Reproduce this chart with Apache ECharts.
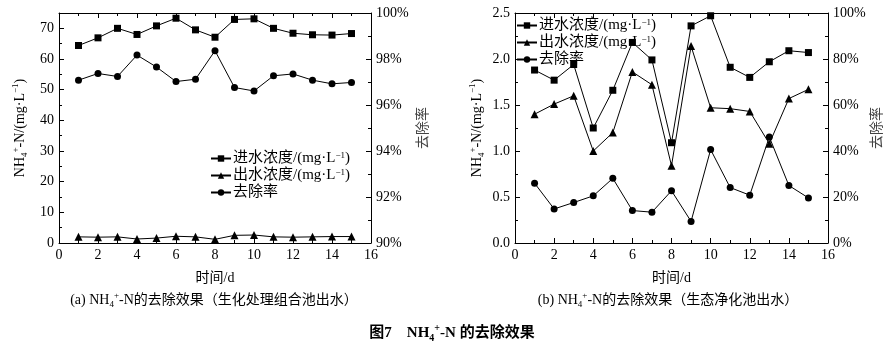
<!DOCTYPE html>
<html>
<head>
<meta charset="utf-8">
<script src="https://cdn.jsdelivr.net/npm/echarts@6/dist/echarts.min.js"></script>
<style>
  html, body { margin: 0; padding: 0; background: #fff; }
  #main { width: 894px; height: 353px; }
</style>
</head>
<body>
<div id="main"></div>
<script>
// days on the x axis
const days = [1, 2, 3, 4, 5, 6, 7, 8, 9, 10, 11, 12, 13, 14, 15];

// (a) combined biochemical tank
const inflowA = [64.4, 66.9, 70.0, 68.0, 70.8, 73.3, 69.5, 67.1, 72.9, 73.1, 70.0, 68.4, 67.9, 67.8, 68.3];
const outflowA = [2.0, 1.9, 2.0, 1.3, 1.6, 2.2, 2.0, 1.2, 2.5, 2.6, 2.0, 1.9, 2.0, 2.1, 2.1];
const rateA = [97.08, 97.37, 97.24, 98.17, 97.65, 97.02, 97.12, 98.36, 96.76, 96.61, 97.27, 97.35, 97.08, 96.92, 96.98];

// (b) ecological purification tank
const inflowB = [1.88, 1.77, 1.94, 1.25, 1.66, 2.18, 1.99, 1.09, 2.36, 2.47, 1.91, 1.80, 1.97, 2.09, 2.07];
const outflowB = [1.40, 1.51, 1.60, 1.00, 1.20, 1.86, 1.72, 0.84, 2.14, 1.47, 1.46, 1.43, 1.08, 1.57, 1.67];
const rateB = [26.0, 14.8, 17.6, 20.5, 28.1, 14.1, 13.4, 22.7, 9.4, 40.6, 24.1, 20.8, 46.1, 25.0, 19.6];

const names = ['进水浓度/(mg·L−1)', '出水浓度/(mg·L−1)', '去除率'];

const FONT = "'Liberation Serif', 'Noto Sans CJK SC', serif";
const rich = {
  sub: { fontSize: 9, fontFamily: FONT, verticalAlign: 'bottom', lineHeight: 18, color: '#000' },
  sup: { fontSize: 9, fontFamily: FONT, verticalAlign: 'top', lineHeight: 18, color: '#000' }
};
const legRich = {
  sup: { fontSize: 9, fontFamily: FONT, verticalAlign: 'top', lineHeight: 15, color: '#000' }
};
const nhName = 'NH{sub|4}{sup|+}-N/(mg·L{sup|−1})';

const pts = arr => days.map((d, i) => [d, arr[i]]);

const chart = echarts.init(document.getElementById('main'));

function xAx(gridIndex, pos) {
  const bottom = pos === 'bottom';
  return {
    type: 'value', gridIndex: gridIndex, position: pos,
    min: 0, max: 16, interval: 2,
    name: bottom ? '时间/d' : '', nameLocation: 'middle', nameGap: 28,
    nameTextStyle: { fontFamily: FONT, fontSize: 14, color: '#000' },
    axisLine: { show: true, onZero: false, lineStyle: { color: '#000', width: 1 } },
    axisTick: { show: true, inside: true, length: 5, lineStyle: { color: '#000' } },
    minorTick: { show: true, splitNumber: 2, length: 3, lineStyle: { color: '#000' } },
    axisLabel: { show: bottom, margin: 5, fontFamily: FONT, fontSize: 14, color: '#000' },
    splitLine: { show: false }
  };
}

function yAx(gridIndex, pos, min, max, interval, fmt, name, gap, nameColor) {
  return {
    type: 'value', gridIndex: gridIndex, position: pos,
    min: min, max: max, interval: interval,
    name: name, nameLocation: 'middle', nameGap: gap, nameRotate: 90,
    nameTextStyle: { fontFamily: FONT, fontSize: 14, color: nameColor, rich: rich },
    axisLine: { show: true, onZero: false, lineStyle: { color: '#000', width: 1 } },
    axisTick: { show: true, inside: true, length: 5, lineStyle: { color: '#000' } },
    minorTick: { show: true, splitNumber: 2, length: 3, lineStyle: { color: '#000' } },
    axisLabel: { margin: 5, fontFamily: FONT, fontSize: 14, color: '#000', formatter: fmt, showMaxLabel: max % interval === 0 },
    splitLine: { show: false }
  };
}

function mk(name, data, symbol, size, xi, yi) {
  return {
    name: name, type: 'line', data: data, xAxisIndex: xi, yAxisIndex: yi,
    symbol: symbol, symbolSize: size, showSymbol: true,
    itemStyle: { color: '#000' },
    lineStyle: { color: '#000', width: 1 },
    animation: false
  };
}

const legendBase = {
  orient: 'vertical', itemWidth: 20, itemHeight: 8, itemGap: 2,
  formatter: n => n.replace('−1', '{sup|−1}'),
  textStyle: { fontFamily: FONT, fontSize: 15, lineHeight: 15, color: '#000', padding: [0, 0, 0, -3], rich: legRich }
};

chart.setOption({
  animation: false,
  grid: [
    { left: 59, top: 13, width: 312, height: 230 },
    { left: 515, top: 13, width: 313, height: 230 }
  ],
  xAxis: [xAx(0, 'bottom'), xAx(0, 'top'), xAx(1, 'bottom'), xAx(1, 'top')],
  yAxis: [
    yAx(0, 'left', 0, 75, 10, '{value}', nhName, 30, '#000'),
    yAx(0, 'right', 90, 100, 2, '{value}%', '去除率', 45, '#444'),
    yAx(1, 'left', 0, 2.5, 0.5, v => v.toFixed(1), nhName, 29, '#000'),
    yAx(1, 'right', 0, 100, 20, '{value}%', '去除率', 42, '#444')
  ],
  legend: [
    Object.assign({ left: 205, top: 146, data: names }, legendBase),
    Object.assign({ left: 511, top: 13, data: names }, legendBase)
  ],
  series: [
    mk(names[0], pts(inflowA), 'rect', 7, 0, 0),
    mk(names[1], pts(outflowA), 'triangle', 8, 0, 0),
    mk(names[2], pts(rateA), 'circle', 7, 0, 1),
    mk(names[0], pts(inflowB), 'rect', 7, 2, 2),
    mk(names[1], pts(outflowB), 'triangle', 8, 2, 2),
    mk(names[2], pts(rateB), 'circle', 7, 2, 3)
  ],
  graphic: [
    { type: 'text', x: 214, y: 300, style: { text: '(a) NH{sub|4}{sup|+}-N的去除效果（生化处理组合池出水）', align: 'center', verticalAlign: 'middle', font: '14px ' + FONT, fill: '#000', rich: rich } },
    { type: 'text', x: 668, y: 300, style: { text: '(b) NH{sub|4}{sup|+}-N的去除效果（生态净化池出水）', align: 'center', verticalAlign: 'middle', font: '14px ' + FONT, fill: '#000', rich: rich } },
    { type: 'text', x: 452, y: 333, style: { text: '图7    NH{sub|4}{sup|+}-N 的去除效果', align: 'center', verticalAlign: 'middle', font: 'bold 15px ' + FONT, fill: '#000', rich: {
      sub: { fontSize: 10, fontWeight: 'bold', fontFamily: FONT, verticalAlign: 'bottom', lineHeight: 20 },
      sup: { fontSize: 10, fontWeight: 'bold', fontFamily: FONT, verticalAlign: 'top', lineHeight: 20 }
    } } }
  ]
});
</script>
</body>
</html>
